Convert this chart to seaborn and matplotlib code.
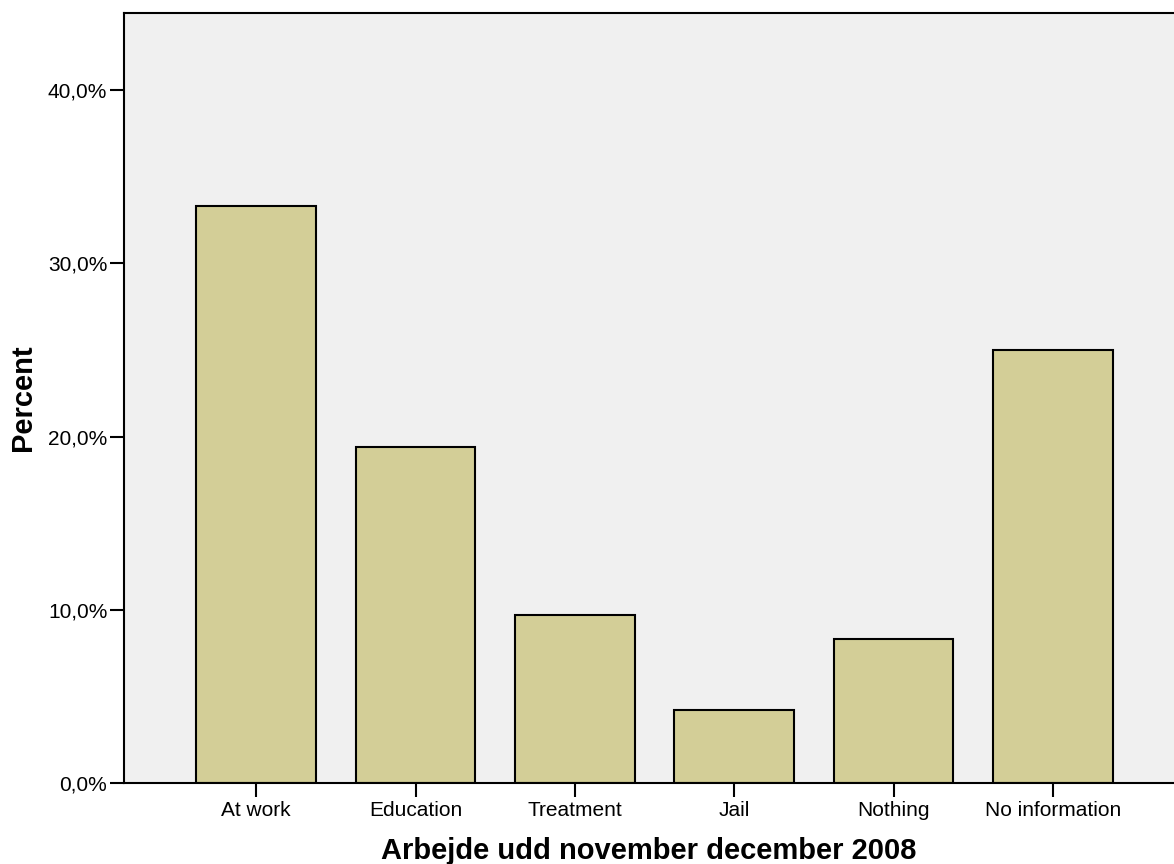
import matplotlib
matplotlib.use("Agg")
import matplotlib.pyplot as plt
import seaborn as sns
import pandas as pd
from matplotlib.ticker import FuncFormatter

# Datos del grafico
categorias = ["At work", "Education", "Treatment", "Jail", "Nothing", "No information"]
porcentajes = [33.3, 19.4, 9.7, 4.2, 8.3, 25.0]
ticks_y = [0, 10, 20, 30, 40]

df = pd.DataFrame({"Categoria": categorias, "Percent": porcentajes})

sns.set_style("white")
plt.rcParams["font.family"] = ["Liberation Sans", "DejaVu Sans"]

fig = plt.figure(figsize=(11.74, 8.64), dpi=100)
ax = fig.add_axes([0.1056, 0.0938, 0.8944, 0.8912])
ax.set_facecolor("#F0F0F0")

sns.barplot(
    data=df,
    x="Categoria",
    y="Percent",
    color="#D3CE97",
    saturation=1,
    edgecolor="black",
    linewidth=1.5,
    width=0.75,
    ax=ax
)

ax.set_xlim(-0.83, 5.76)
ax.set_ylim(0, 44.45)
ax.set_yticks(ticks_y)
ax.yaxis.set_major_formatter(FuncFormatter(lambda v, p: f"{v:.1f}%".replace(".", ",")))

for lado in ["left", "bottom", "top"]:
    ax.spines[lado].set_visible(True)
    ax.spines[lado].set_color("black")
    ax.spines[lado].set_linewidth(1.5)
ax.spines["right"].set_visible(False)

ax.tick_params(axis="both", direction="out", length=10, width=1.5, colors="black",
               labelsize=15, pad=2)
ax.tick_params(axis="x", pad=3)
ax.tick_params(left=True, bottom=True)

ax.set_xlabel("Arbejde udd november december 2008", fontsize=21, fontweight="bold",
              color="black", labelpad=12)
ax.set_ylabel("Percent", fontsize=21, fontweight="bold", color="black", labelpad=8)

plt.savefig("out.png", dpi=100)
